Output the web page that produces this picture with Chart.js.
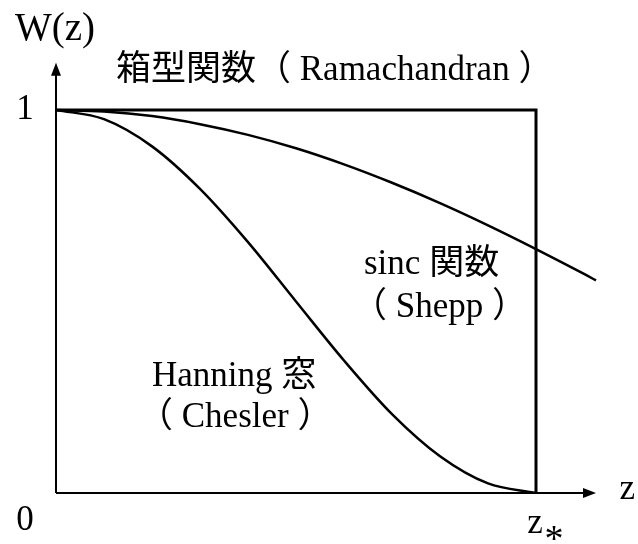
<!DOCTYPE html>
<html><head><meta charset="utf-8">
<script src="https://cdn.jsdelivr.net/npm/chart.js@4"></script>
<style>html,body{margin:0;padding:0;background:#fff;}canvas{display:block;}</style>
</head><body>
<canvas id="c" width="638" height="544"></canvas>
<script>
// Box function (Ramachandran)
const boxZ = [0, 1, 1];
const boxW = [1, 1, 0];
// sinc function (Shepp)
const sincZ = [0, 0.1, 0.2, 0.3, 0.4, 0.5, 0.6, 0.7, 0.8, 0.9, 1.0, 1.1, 1.125];
const sincW = [1, 0.996, 0.984, 0.963, 0.935, 0.900, 0.858, 0.810, 0.757, 0.699, 0.637, 0.572, 0.555];
// Hanning window (Chesler)
const hanZ = [0, 0.1, 0.2, 0.3, 0.4, 0.5, 0.6, 0.7, 0.8, 0.9, 1.0];
const hanW = [1, 0.976, 0.905, 0.794, 0.655, 0.500, 0.346, 0.206, 0.096, 0.025, 0];
// axis labels
const yTickLabels = ["0", "1"];
const zStarLabel = "z";

const pts = (xs, ys) => xs.map((x, i) => ({x: x, y: ys[i]}));
const serif = '"Liberation Serif", "Noto Sans CJK JP", serif';

const annot = {
  id: 'annot',
  afterDraw(chart) {
    const ctx = chart.ctx, xs = chart.scales.x, ys = chart.scales.y;
    const X = v => xs.getPixelForValue(v), Y = v => ys.getPixelForValue(v);
    ctx.save();
    ctx.strokeStyle = '#000'; ctx.fillStyle = '#000'; ctx.lineWidth = 2;
    // axes
    const x0 = X(0), y0 = Y(0), xEnd = X(1.125), yEnd = Y(1.123);
    ctx.beginPath(); ctx.moveTo(x0, y0); ctx.lineTo(xEnd - 10, y0); ctx.stroke();
    ctx.beginPath(); ctx.moveTo(xEnd, y0); ctx.lineTo(xEnd - 13, y0 - 5); ctx.lineTo(xEnd - 13, y0 + 5); ctx.closePath(); ctx.fill();
    ctx.beginPath(); ctx.moveTo(x0, y0); ctx.lineTo(x0, yEnd + 10); ctx.stroke();
    ctx.beginPath(); ctx.moveTo(x0, yEnd); ctx.lineTo(x0 - 5, yEnd + 13); ctx.lineTo(x0 + 5, yEnd + 13); ctx.closePath(); ctx.fill();
    // texts
    ctx.textBaseline = 'middle';
    ctx.font = '35px ' + serif;
    ctx.textAlign = 'center';
    ctx.fillText(yTickLabels[1], 25, Y(1));
    ctx.fillText(yTickLabels[0], 25, Y(0) + 28);
    ctx.fillText('z', X(1.19), Y(0) - 3);
    ctx.fillText(zStarLabel, X(1) - 1, Y(0) + 31);
    ctx.font = '38px ' + serif;
    ctx.fillText('*', X(1) + 18, Y(0) + 48);
    ctx.textAlign = 'left';
    ctx.font = '39px ' + serif;
    ctx.fillText('W(z)', 15, 30);
    ctx.font = '35px ' + serif;
    ctx.fillText('箱型関数（ Ramachandran ）', 116, 71);
    ctx.fillText('sinc 関数', 364, 265);
    ctx.fillText('（ Shepp ）', 352, 308);
    ctx.fillText('Hanning 窓', 152, 377);
    ctx.fillText('（ Chesler ）', 138, 418);
    ctx.restore();
  }
};

new Chart(document.getElementById('c'), {
  type: 'line',
  data: {
    datasets: [
      {label: '箱型関数', data: pts(boxZ, boxW), borderColor: '#000', borderWidth: 3, pointRadius: 0, tension: 0},
      {label: 'sinc 関数', data: pts(sincZ, sincW), borderColor: '#000', borderWidth: 2.5, pointRadius: 0, cubicInterpolationMode: 'monotone'},
      {label: 'Hanning 窓', data: pts(hanZ, hanW), borderColor: '#000', borderWidth: 2.5, pointRadius: 0, cubicInterpolationMode: 'monotone'}
    ]
  },
  options: {
    responsive: false,
    animation: false,
    layout: {padding: {left: 56, right: 30, top: 60, bottom: 51}},
    plugins: {legend: {display: false}, tooltip: {enabled: false}},
    scales: {
      x: {type: 'linear', min: 0, max: 1.15, display: false},
      y: {type: 'linear', min: 0, max: 1.1305, display: false}
    }
  },
  plugins: [annot]
});
</script>
</body></html>
